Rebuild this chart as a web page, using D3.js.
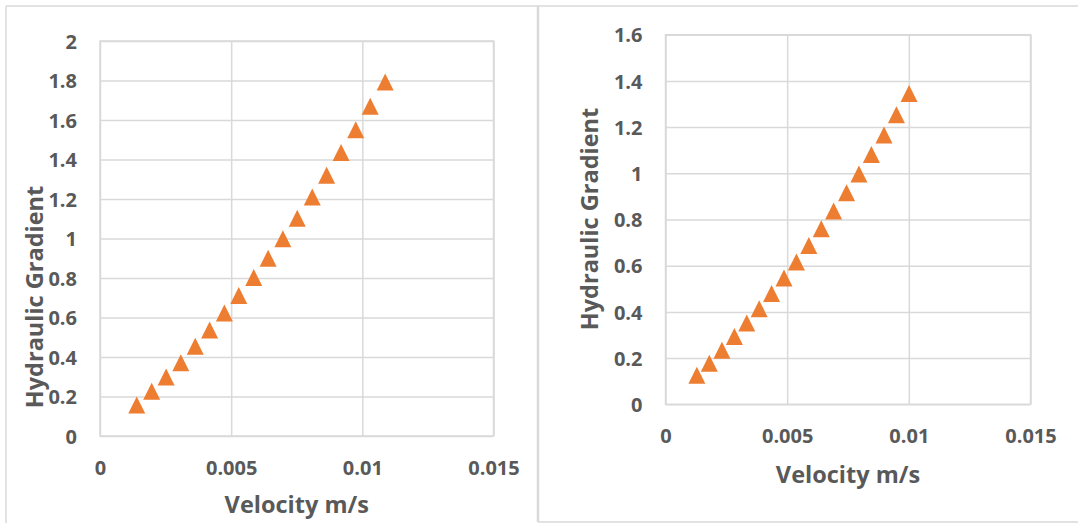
<!DOCTYPE html>
<html>
<head>
<meta charset="utf-8">
<script src="https://cdn.jsdelivr.net/npm/d3@7/dist/d3.min.js"></script>
<style>
  html, body { margin: 0; padding: 0; background: #fff; }
  svg { display: block; }
  text { font-family: "Open Sans", "Liberation Sans", sans-serif; font-weight: 700; fill: #595959; }
</style>
</head>
<body>
<svg id="chart" width="1078" height="523"></svg>
<script>
// Test series 1
const velocityA = [0.00140, 0.00197, 0.00252, 0.00308, 0.00363, 0.00418, 0.00474, 0.00529, 0.00586,
                   0.00641, 0.00697, 0.00752, 0.00809, 0.00864, 0.00919, 0.00975, 0.01030, 0.01087];
const gradientA = [0.157, 0.226, 0.299, 0.371, 0.454, 0.537, 0.623, 0.712, 0.803,
                   0.900, 0.999, 1.102, 1.210, 1.320, 1.435, 1.551, 1.669, 1.792];

// Test series 2
const velocityB = [0.00129, 0.00180, 0.00232, 0.00283, 0.00334, 0.00385, 0.00436, 0.00487, 0.00538,
                   0.00589, 0.00640, 0.00691, 0.00744, 0.00795, 0.00846, 0.00898, 0.00949, 0.01001];
const gradientB = [0.126, 0.178, 0.234, 0.293, 0.352, 0.414, 0.480, 0.547, 0.616,
                   0.687, 0.760, 0.837, 0.916, 0.997, 1.081, 1.166, 1.254, 1.345];

const xTicks = [0, 0.005, 0.01, 0.015];
const yTicksA = [0, 0.2, 0.4, 0.6, 0.8, 1, 1.2, 1.4, 1.6, 1.8, 2];
const yTicksB = [0, 0.2, 0.4, 0.6, 0.8, 1, 1.2, 1.4, 1.6];

const xTitle = "Velocity m/s";
const yTitle = "Hydraulic Gradient";

const GRID = "#d9d9d9";
const MARKER = "#ED7D31";

const svg = d3.select("#chart");

// Chart frames
const frame = svg.append("g").attr("stroke", GRID).attr("stroke-width", 1.5).attr("fill", "none");
frame.append("line").attr("x1", 6).attr("x2", 1078).attr("y1", 6).attr("y2", 6);
frame.append("line").attr("x1", 6).attr("x2", 6).attr("y1", 6).attr("y2", 523);
frame.append("line").attr("x1", 538).attr("x2", 538).attr("y1", 6).attr("y2", 522).attr("stroke-width", 2.5);
frame.append("line").attr("x1", 538).attr("x2", 1078).attr("y1", 522).attr("y2", 522);

const panels = [
  { xs: velocityA, ys: gradientA, yTicks: yTicksA, yMax: 2,
    left: 100, right: 493.5, top: 41, bottom: 436,
    xTickBase: 475, xTitleBase: 513, yTitleX: 43, yTitleY: 297 },
  { xs: velocityB, ys: gradientB, yTicks: yTicksB, yMax: 1.6,
    left: 665.5, right: 1030.5, top: 34.7, bottom: 404.3,
    xTickBase: 443, xTitleBase: 483, yTitleX: 598, yTitleY: 219 }
];

const fmt = d => String(d);

panels.forEach(p => {
  const x = d3.scaleLinear().domain([0, 0.015]).range([p.left, p.right]);
  const y = d3.scaleLinear().domain([0, p.yMax]).range([p.bottom, p.top]);
  const g = svg.append("g");

  // Gridlines via axes with full-length ticks
  const gx = g.append("g")
    .attr("transform", `translate(0,${p.bottom})`)
    .call(d3.axisBottom(x).tickValues(xTicks).tickSize(-(p.bottom - p.top)).tickFormat(fmt));
  gx.select(".domain").remove();
  gx.selectAll("line").attr("stroke", GRID).attr("stroke-width", 1.5);
  gx.selectAll("text")
    .attr("y", p.xTickBase - p.bottom).attr("dy", null)
    .attr("font-size", 20).attr("fill", "#595959").attr("font-family", null);

  const gy = g.append("g")
    .attr("transform", `translate(${p.left},0)`)
    .call(d3.axisLeft(y).tickValues(p.yTicks).tickSize(-(p.right - p.left)).tickFormat(fmt));
  gy.select(".domain").remove();
  gy.selectAll("line").attr("stroke", GRID).attr("stroke-width", 1.5);
  gy.selectAll("text")
    .attr("x", -23).attr("dy", "0.36em")
    .attr("font-size", 20).attr("fill", "#595959").attr("font-family", null);

  // Plot area outline
  g.append("rect")
    .attr("x", p.left).attr("y", p.top)
    .attr("width", p.right - p.left).attr("height", p.bottom - p.top)
    .attr("fill", "none").attr("stroke", GRID).attr("stroke-width", 1.5);

  // Axis titles
  g.append("text")
    .attr("x", (p.left + p.right) / 2).attr("y", p.xTitleBase)
    .attr("text-anchor", "middle").attr("font-size", 23.5)
    .text(xTitle);
  g.append("text")
    .attr("transform", `translate(${p.yTitleX},${p.yTitleY}) rotate(-90)`)
    .attr("text-anchor", "middle").attr("font-size", 23.5)
    .text(yTitle);

  // Triangle markers
  const w = 17, h = 17;
  const tri = `M0,${-h / 2}L${w / 2},${h / 2}L${-w / 2},${h / 2}Z`;
  g.append("g").selectAll("path")
    .data(p.xs.map((v, i) => [v, p.ys[i]]))
    .join("path")
    .attr("d", tri)
    .attr("transform", d => `translate(${x(d[0])},${y(d[1])})`)
    .attr("fill", MARKER);
});
</script>
</body>
</html>
